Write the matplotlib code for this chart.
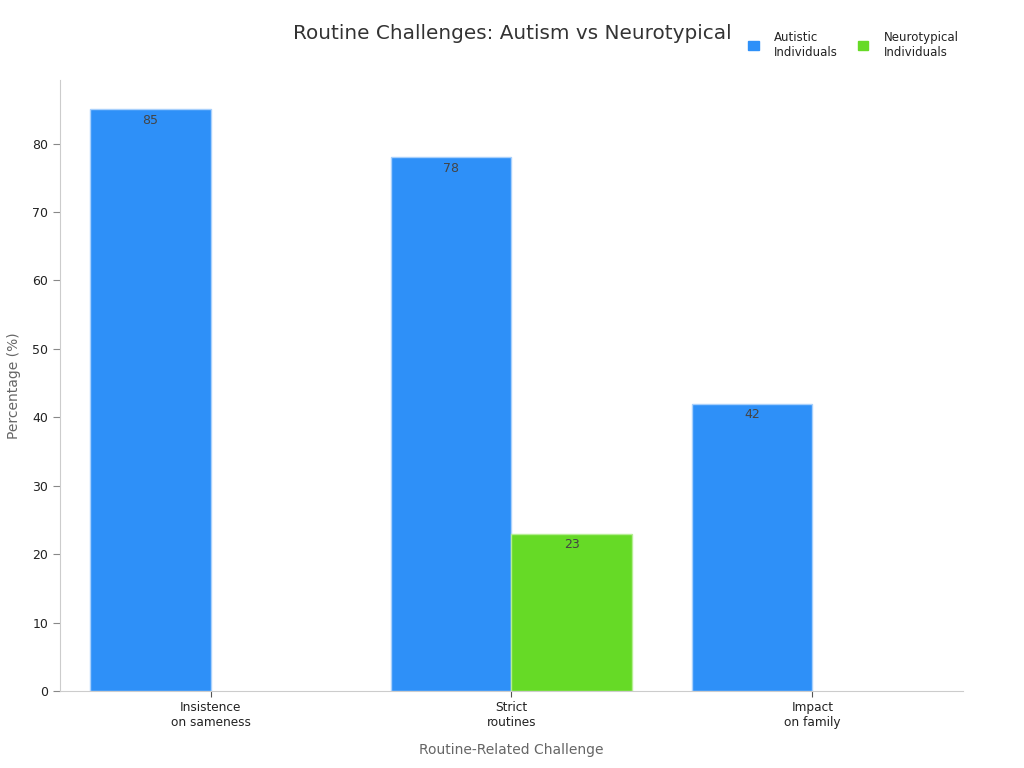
import matplotlib
matplotlib.use("Agg")
import matplotlib.pyplot as plt
import numpy as np
from matplotlib.patches import Patch

categories = ["Insistence\non sameness", "Strict\nroutines", "Impact\non family"]
autistic = [85, 78, 42]
neurotypical = [None, 23, None]
series_names = ["Autistic\nIndividuals", "Neurotypical\nIndividuals"]
colors = ["#2E90F8", "#66DA26"]
edge_colors = ["#A8D0FC", "#B5EE93"]

fig = plt.figure(figsize=(10.24, 7.68), dpi=100)
ax = fig.add_axes([0.0586, 0.1003, 0.8818, 0.7955])

x = np.arange(len(categories))
w = 0.4
for i, series in enumerate([autistic, neurotypical]):
    offs = -w / 2 if i == 0 else w / 2
    for xi, v in zip(x, series):
        if v is None:
            continue
        ax.bar(xi + offs, v, width=w, color=colors[i], edgecolor=edge_colors[i], linewidth=1)
        ax.annotate(f"{v}", (xi + offs, v), xytext=(0, -8), textcoords="offset points",
                    ha="center", va="center", fontsize=9, color="#444444")

ax.set_xlim(-0.5, 2.5)
ax.set_ylim(0, 89.3)
ax.set_xticks(x)
ax.set_xticklabels(categories, fontsize=8.7, color="#222222")
ax.set_yticks([0, 10, 20, 30, 40, 50, 60, 70, 80])
ax.tick_params(axis="y", labelsize=9, colors="#222222", length=5, color="#888888")
ax.tick_params(axis="x", length=4, color="#555555")
for s in ["top", "right"]:
    ax.spines[s].set_visible(False)
for s in ["left", "bottom"]:
    ax.spines[s].set_color("#CCCCCC")
ax.set_ylabel("Percentage (%)", fontsize=10, color="#666666", labelpad=8)
ax.set_xlabel("Routine-Related Challenge", fontsize=10, color="#666666", labelpad=10)

fig.text(0.5, 0.956, "Routine Challenges: Autism vs Neurotypical", ha="center", va="center",
         fontsize=14.4, color="#333333")

handles = [Patch(facecolor=c, edgecolor=c) for c in colors]
fig.legend(handles, series_names, loc="center left", bbox_to_anchor=(0.72, 0.942),
           ncol=2, frameon=False, fontsize=8.5, handlelength=0.9, handleheight=0.9,
           columnspacing=1.7, handletextpad=1.3, labelcolor="#222222")

fig.savefig("out.png", dpi=100)
